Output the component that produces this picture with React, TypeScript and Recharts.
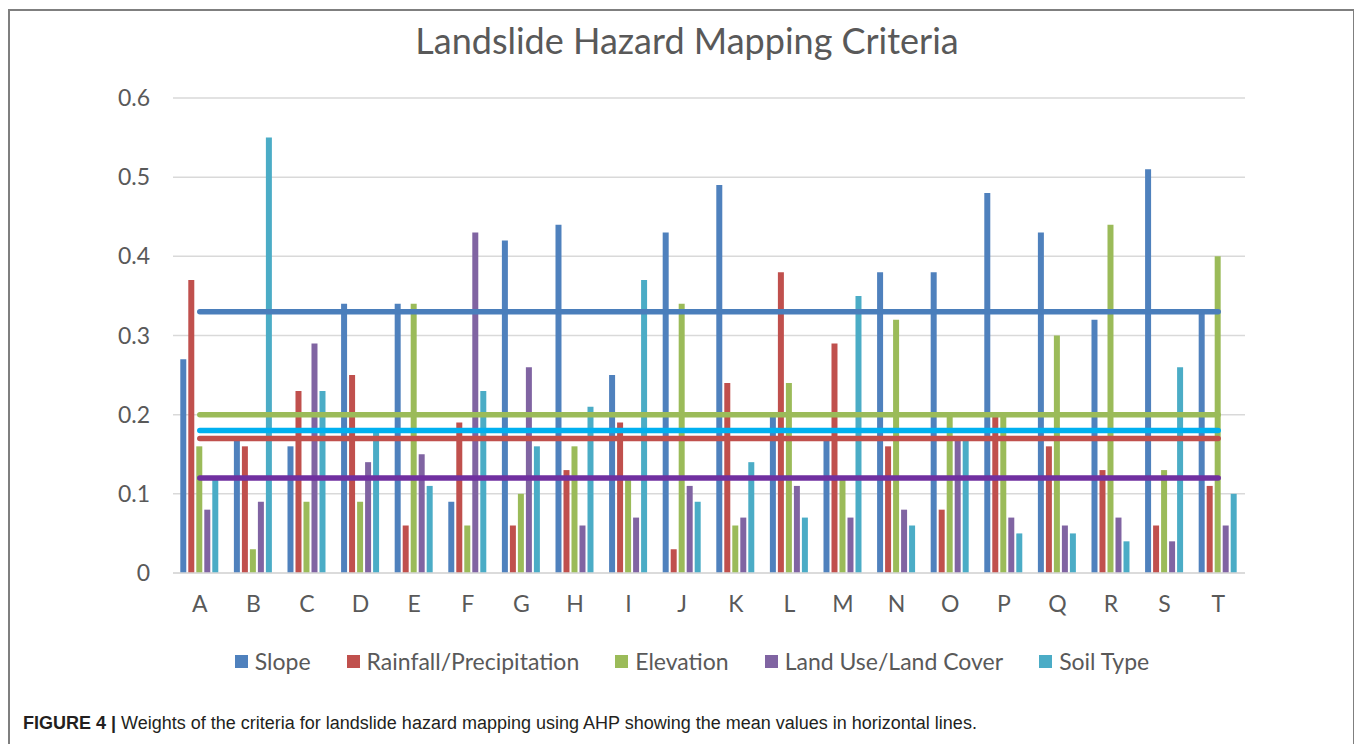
import React from "react";
import {
  ComposedChart,
  Bar,
  XAxis,
  YAxis,
  CartesianGrid,
  Legend,
  ReferenceLine,
} from "recharts";

const categories = ["A", "B", "C", "D", "E", "F", "G", "H", "I", "J", "K", "L", "M", "N", "O", "P", "Q", "R", "S", "T"];

const slope = [0.27, 0.17, 0.16, 0.34, 0.34, 0.09, 0.42, 0.44, 0.25, 0.43, 0.49, 0.2, 0.17, 0.38, 0.38, 0.48, 0.43, 0.32, 0.51, 0.33];
const rainfall = [0.37, 0.16, 0.23, 0.25, 0.06, 0.19, 0.06, 0.13, 0.19, 0.03, 0.24, 0.38, 0.29, 0.16, 0.08, 0.2, 0.16, 0.13, 0.06, 0.11];
const elevation = [0.16, 0.03, 0.09, 0.09, 0.34, 0.06, 0.1, 0.16, 0.12, 0.34, 0.06, 0.24, 0.12, 0.32, 0.2, 0.2, 0.3, 0.44, 0.13, 0.4];
const landUse = [0.08, 0.09, 0.29, 0.14, 0.15, 0.43, 0.26, 0.06, 0.07, 0.11, 0.07, 0.11, 0.07, 0.08, 0.17, 0.07, 0.06, 0.07, 0.04, 0.06];
const soilType = [0.12, 0.55, 0.23, 0.18, 0.11, 0.23, 0.16, 0.21, 0.37, 0.09, 0.14, 0.07, 0.35, 0.06, 0.17, 0.05, 0.05, 0.04, 0.26, 0.1];

// mean values drawn as horizontal lines
const meanValues = { slope: 0.33, rainfall: 0.17, elevation: 0.2, landUse: 0.12, soilType: 0.18 };

const yTicks = [0, 0.1, 0.2, 0.3, 0.4, 0.5, 0.6];

const series = [
  { key: "slope", name: "Slope", color: "#4f81bd", lineColor: "#4a7ebb" },
  { key: "rainfall", name: "Rainfall/Precipitation", color: "#c0504d", lineColor: "#c0504d" },
  { key: "elevation", name: "Elevation", color: "#9bbb59", lineColor: "#9bbb59" },
  { key: "landUse", name: "Land Use/Land Cover", color: "#8064a2", lineColor: "#7030a0" },
  { key: "soilType", name: "Soil Type", color: "#4bacc6", lineColor: "#00b0f0" },
];

const data = categories.map((c, i) => ({
  name: c,
  slope: slope[i],
  rainfall: rainfall[i],
  elevation: elevation[i],
  landUse: landUse[i],
  soilType: soilType[i],
}));

const FONT = "Lato, 'Open Sans', sans-serif";
const TEXT = "#595959";

const lineOrder = ["slope", "elevation", "soilType", "rainfall", "landUse"];

function LegendContent() {
  return (
    <div
      style={{
        display: "flex",
        justifyContent: "center",
        alignItems: "center",
        fontFamily: FONT,
        fontSize: 23,
        color: TEXT,
        height: 30,
        paddingLeft: 62,
      }}
    >
      {series.map((s) => (
        <div key={s.key} style={{ display: "flex", alignItems: "center", marginRight: 36 }}>
          <span style={{ width: 13, height: 13, background: s.color, marginRight: 7, display: "inline-block" }} />
          <span>{s.name}</span>
        </div>
      ))}
    </div>
  );
}

export default function App() {
  return (
    <div
      style={{
        marginTop: 1,
        width: 1343,
        height: 760,
        border: "2px solid #7f7f7f",
        position: "relative",
        background: "#fff",
      }}
    >
      <div
        style={{
          position: "absolute",
          top: 7,
          left: 0,
          width: 1343,
          paddingLeft: 11,
          boxSizing: "border-box",
          textAlign: "center",
          fontFamily: FONT,
          fontSize: 36,
          color: TEXT,
          zIndex: 2,
        }}
      >
        Landslide Hazard Mapping Criteria
      </div>
      <ComposedChart
        width={1343}
        height={665}
        data={data}
        margin={{ top: 87, right: 108, bottom: 0, left: 103 }}
        barCategoryGap="13.6%"
        barGap={2}
      >
        <CartesianGrid vertical={false} stroke="#d9d9d9" strokeWidth={1.5} />
        <XAxis
          dataKey="name"
          height={73}
          tickLine={false}
          axisLine={{ stroke: "#d9d9d9", strokeWidth: 1.5 }}
          tickMargin={17}
          tick={{ fill: TEXT, fontSize: 23, fontFamily: FONT }}
        />
        <YAxis
          width={60}
          domain={[0, 0.6]}
          ticks={yTicks}
          tickLine={false}
          axisLine={false}
          tickMargin={17}
          tick={{ fill: TEXT, fontSize: 23, fontFamily: FONT }}
        />
        <Legend verticalAlign="bottom" height={30} content={<LegendContent />} />
        {series.map((s) => (
          <Bar key={s.key} dataKey={s.key} name={s.name} fill={s.color} isAnimationActive={false} />
        ))}
        {lineOrder.map((k) => {
          const s = series.find((x) => x.key === k)!;
          const v = meanValues[k as keyof typeof meanValues];
          return (
            <ReferenceLine
              key={"mean-" + k}
              segment={[
                { x: categories[0], y: v },
                { x: categories[categories.length - 1], y: v },
              ]}
              stroke={s.lineColor}
              strokeWidth={5.5}
              strokeLinecap="round"
            />
          );
        })}
      </ComposedChart>
      <div
        style={{
          marginTop: 36,
          paddingLeft: 13,
          fontFamily: "'Liberation Sans', Arial, sans-serif",
          fontSize: 18,
          lineHeight: "22px",
          color: "#231f20",
        }}
      >
        <b>FIGURE 4 |</b> Weights of the criteria for landslide hazard mapping using AHP showing the mean values in horizontal lines.
      </div>
    </div>
  );
}
